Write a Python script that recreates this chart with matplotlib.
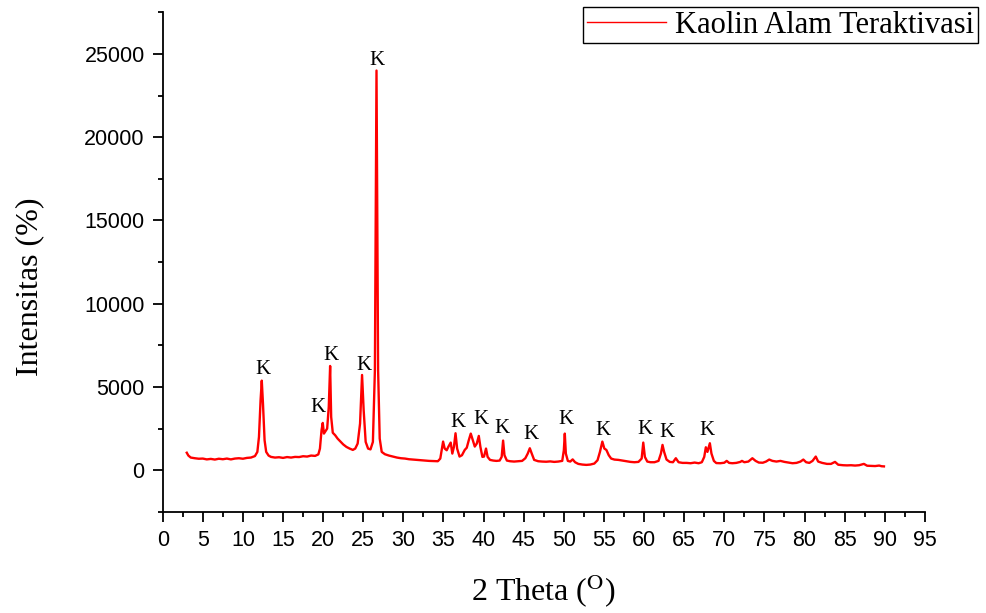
import matplotlib
matplotlib.use('Agg')
import matplotlib.pyplot as plt
from matplotlib.ticker import MultipleLocator

# XRD pattern (2 theta in degrees, intensity)
two_theta = [3.0, 3.2, 3.5, 4.0, 4.5, 5.0, 5.5, 6.0, 6.5, 7.0, 7.5, 8.0, 8.5, 9.0, 9.5,
             10.0, 10.5, 11.0, 11.5, 11.8, 12.0, 12.2, 12.35, 12.5, 12.7, 12.9, 13.2, 13.5,
             14.0, 14.5, 15.0, 15.5, 16.0, 16.5, 17.0, 17.5, 18.0, 18.5, 19.0, 19.4, 19.6,
             19.8, 19.95, 20.1, 20.3, 20.5, 20.7, 20.87, 21.0, 21.2, 21.5, 21.8, 22.1, 22.5,
             22.9, 23.3, 23.7, 24.0, 24.3, 24.6, 24.85, 25.05, 25.3, 25.6, 25.9, 26.2, 26.45,
             26.65, 26.85, 27.05, 27.3, 27.7, 28.2, 28.7, 29.2, 29.7, 30.2, 30.7, 31.2, 31.7,
             32.2, 32.7, 33.2, 33.7, 34.3, 34.6, 34.8, 34.95, 35.15, 35.4, 35.6, 35.9, 36.1,
             36.3, 36.5, 36.7, 37.0, 37.3, 37.65, 37.9, 38.15, 38.4, 38.65, 38.9, 39.15, 39.4,
             39.6, 39.85, 40.05, 40.3, 40.5, 40.8, 41.2, 41.6, 42.0, 42.25, 42.43, 42.6, 42.9,
             43.3, 43.8, 44.3, 44.8, 45.2, 45.5, 45.76, 46.0, 46.3, 46.8, 47.3, 47.8, 48.3,
             48.8, 49.3, 49.8, 50.0, 50.12, 50.25, 50.5, 50.8, 51.1, 51.4, 51.8, 52.3, 52.8,
             53.3, 53.8, 54.2, 54.5, 54.8, 55.05, 55.3, 55.6, 55.9, 56.3, 56.8, 57.3, 57.8,
             58.3, 58.8, 59.3, 59.7, 59.9, 60.1, 60.4, 60.8, 61.3, 61.8, 62.1, 62.3, 62.5,
             62.8, 63.2, 63.6, 63.96, 64.3, 64.8, 65.3, 65.8, 66.3, 66.8, 67.2, 67.5, 67.7,
             67.9, 68.2, 68.4, 68.7, 69.0, 69.5, 70.0, 70.3, 70.6, 71.0, 71.5, 72.0, 72.2,
             72.5, 73.0, 73.5, 73.9, 74.3, 74.8, 75.2, 75.6, 76.0, 76.5, 77.0, 77.5, 78.0,
             78.5, 79.0, 79.5, 79.85, 80.2, 80.6, 81.0, 81.4, 81.7, 82.2, 82.8, 83.3, 83.8,
             84.2, 84.8, 85.3, 85.8, 86.3, 86.8, 87.4, 87.8, 88.3, 88.8, 89.3, 89.6, 89.9]
intensity = [1050, 880, 760, 720, 690, 700, 650, 680, 640, 690, 660, 700, 650, 700, 720,
             690, 740, 760, 850, 1100, 2000, 4200, 5380, 4000, 1800, 1100, 880, 800,
             760, 780, 740, 790, 760, 800, 790, 840, 820, 880, 860, 950, 1300,
             2400, 2840, 2200, 2350, 2500, 3800, 6260, 3200, 2250, 2100, 1900, 1750, 1550,
             1400, 1300, 1220, 1300, 1600, 2800, 5720, 3600, 1700, 1300, 1250, 1700, 6000,
             24000, 6000, 1900, 1100, 960, 880, 820, 760, 720, 700, 660, 640, 620,
             600, 580, 560, 550, 540, 700, 1300, 1720, 1300, 1200, 1400, 1660, 1000,
             1400, 2220, 1300, 820, 900, 1220, 1350, 1800, 2200, 1800, 1420, 1600, 2060,
             1400, 800, 820, 1300, 800, 620, 580, 560, 580, 800, 1780, 900, 580,
             540, 520, 540, 560, 720, 1000, 1320, 1000, 620, 540, 520, 510, 530,
             500, 520, 560, 1200, 2200, 1000, 560, 520, 650, 480, 380, 340, 320,
             340, 400, 600, 1100, 1720, 1300, 1220, 900, 700, 640, 620, 580, 540,
             500, 480, 500, 700, 1660, 800, 520, 480, 480, 560, 1000, 1520, 1100,
             640, 500, 480, 720, 480, 440, 440, 420, 460, 420, 480, 800, 1380,
             1100, 1620, 1000, 560, 430, 420, 450, 560, 440, 420, 440, 500, 560,
             480, 520, 720, 560, 460, 450, 520, 640, 560, 520, 560, 500, 460,
             420, 440, 520, 640, 480, 440, 560, 820, 520, 440, 380, 380, 500,
             330, 300, 290, 300, 280, 300, 380, 270, 260, 250, 280, 240, 230]

# "K" (kaolinite) peak labels
label_x = [12.47, 19.3, 20.95, 25.06, 26.68, 36.8, 39.65, 42.27, 45.9, 50.25, 54.9, 60.1, 62.84, 67.83]
label_y = [6020, 3740, 6860, 6260, 24620, 2840, 3020, 2480, 2120, 3020, 2360, 2420, 2240, 2360]

plt.rcParams['mathtext.fontset'] = 'stix'
serif = 'Liberation Serif'
sans = 'Liberation Sans'

fig = plt.figure(figsize=(9.86, 6.13), dpi=100)
ax = fig.add_axes([0.165, 0.165, 0.773, 0.815])

ax.plot(two_theta, intensity, color='#ff0000', lw=1.7, label='Kaolin Alam Teraktivasi')
for x, y in zip(label_x, label_y):
    ax.text(x, y, 'K', ha='center', va='center', fontsize=15, family=serif)

ax.set_xlim(0, 95)
ax.set_ylim(-2500, 27500)
ax.xaxis.set_major_locator(MultipleLocator(5))
ax.xaxis.set_minor_locator(MultipleLocator(2.5))
ax.yaxis.set_major_locator(MultipleLocator(5000))
ax.yaxis.set_minor_locator(MultipleLocator(2500))
ax.tick_params(which='major', direction='out', length=7, width=1.3, pad=6, labelsize=15.5)
ax.tick_params(which='minor', direction='out', length=3.5, width=1.3)
for lab in ax.get_xticklabels() + ax.get_yticklabels():
    lab.set_family(sans)

for side in ['top', 'right']:
    ax.spines[side].set_visible(False)
for side in ['left', 'bottom']:
    ax.spines[side].set_linewidth(1.3)

ax.set_xlabel(r'2 Theta ($^{\mathrm{O}}$)', fontsize=23, family=serif)
ax.xaxis.set_label_coords(0.5, -0.122)
ax.set_ylabel('Intensitas (%)', fontsize=23, family=serif, va='center')
ax.yaxis.set_label_coords(-0.175, 0.45)

leg = ax.legend(loc='upper right', bbox_to_anchor=(978 / 986, 1 - 7 / 613),
                bbox_transform=fig.transFigure, borderaxespad=0, fancybox=False,
                edgecolor='black', framealpha=1, prop={'family': serif, 'size': 22},
                handlelength=2.6, handletextpad=0.3, borderpad=0.12)
leg.get_frame().set_linewidth(1.0)
leg.get_lines()[0].set_linewidth(1.0)

fig.savefig('out.png', dpi=100)
